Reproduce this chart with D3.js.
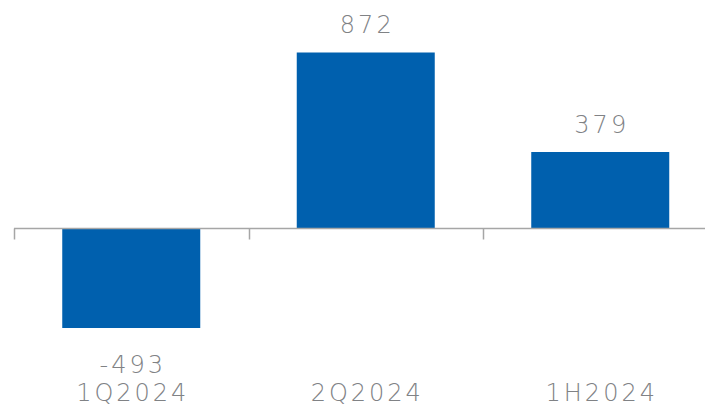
<!DOCTYPE html>
<html><head><meta charset="utf-8">
<script src="https://cdn.jsdelivr.net/npm/d3@7"></script>
<style>body{margin:0;background:#fff}svg{display:block}</style>
</head><body>
<svg id="c" width="705" height="407"></svg>
<script>
const categories = ["1Q2024", "2Q2024", "1H2024"];
const values = [-493, 872, 379];

const svg = d3.select("#c");
const x = d3.scaleBand().domain(categories).range([14, 717.5]).paddingInner(0).paddingOuter(0);
const y = d3.scaleLinear().domain([0, 872]).range([228.5, 52.5]);
const barW = 138;
const font = "'DejaVu Sans', sans-serif";
const textCol = "#808285";
const ls = 3;

svg.selectAll("rect.bar").data(values).join("rect")
  .attr("x", (d, i) => x(categories[i]) + x.bandwidth() / 2 - barW / 2)
  .attr("y", d => y(Math.max(d, 0)))
  .attr("width", barW)
  .attr("height", d => Math.abs(y(d) - y(0)))
  .attr("fill", "#0060ae");

// axis line and ticks
svg.append("line").attr("x1", 14).attr("x2", 705).attr("y1", y(0)).attr("y2", y(0))
  .attr("stroke", "#a6a6a6").attr("stroke-width", 1.5);
svg.selectAll("line.tick").data(categories).join("line")
  .attr("x1", d => Math.round(x(d)) + 0.5).attr("x2", d => Math.round(x(d)) + 0.5)
  .attr("y1", y(0)).attr("y2", y(0) + 11)
  .attr("stroke", "#a6a6a6").attr("stroke-width", 1.5);

// value labels
svg.selectAll("text.val").data(values).join("text")
  .attr("x", (d, i) => x(categories[i]) + x.bandwidth() / 2 + ls / 2)
  .attr("y", d => d >= 0 ? y(d) - 19.5 : y(d) + 44.5)
  .attr("text-anchor", "middle")
  .attr("font-family", font).attr("font-size", 24).attr("font-weight", 300)
  .attr("letter-spacing", ls).attr("fill", textCol)
  .text(d => d < 0 ? "-" + Math.abs(d) : d);

// category labels
svg.selectAll("text.cat").data(categories).join("text")
  .attr("x", d => x(d) + x.bandwidth() / 2 + ls / 2)
  .attr("y", 401)
  .attr("text-anchor", "middle")
  .attr("font-family", font).attr("font-size", 24).attr("font-weight", 300)
  .attr("letter-spacing", ls).attr("fill", textCol)
  .text(d => d);
</script>
</body></html>
